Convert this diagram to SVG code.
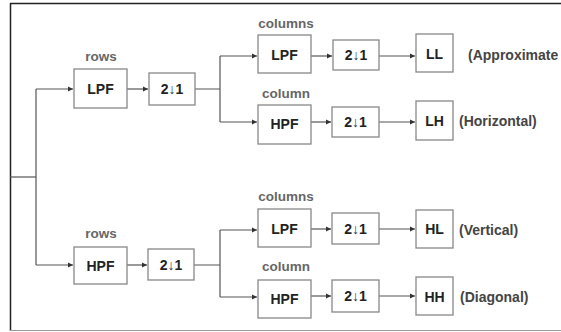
<svg xmlns="http://www.w3.org/2000/svg" width="561" height="332" viewBox="0 0 561 332">
<style>
.bx{fill:#fff;stroke:#888;stroke-width:1.3}
.t{font-family:"Liberation Sans",Arial,sans-serif;font-weight:bold;font-size:14px;fill:#222;text-anchor:middle;dominant-baseline:central}
.ar{fill:#2a3550;font-weight:normal}
.lb{font-family:"Liberation Sans",Arial,sans-serif;font-weight:bold;font-size:13.5px;fill:#666;text-anchor:middle}
.d{font-family:"Liberation Sans",Arial,sans-serif;font-weight:bold;font-size:14px;fill:#444;dominant-baseline:central}
.c{fill:none;stroke:#555;stroke-width:1.2}
</style>
<defs>
<marker id="ah" markerWidth="6" markerHeight="6" refX="5" refY="3" orient="auto" markerUnits="userSpaceOnUse">
<path d="M0,0.5 L5,3 L0,5.5 Z" fill="#333"/>
</marker>
</defs>
<rect x="0" y="0" width="561" height="332" fill="#fff"/>
<g id="frame">
<line x1="10" y1="3.5" x2="561" y2="3.5" stroke="#222" stroke-width="1.5"/>
<line x1="10.5" y1="3" x2="10.5" y2="331" stroke="#222" stroke-width="1.5"/>
<line x1="10" y1="330.5" x2="561" y2="330.5" stroke="#999" stroke-width="1.2"/>
</g>
<g id="connectors">
<path class="c" d="M10,177 H36"/>
<path class="c" d="M36,89 V265"/>
<path class="c" d="M36,89 H73" marker-end="url(#ah)"/>
<path class="c" d="M36,265 H73" marker-end="url(#ah)"/>
<path class="c" d="M127,89 H148" marker-end="url(#ah)"/>
<path class="c" d="M127,265 H147" marker-end="url(#ah)"/>
<path class="c" d="M195,89 H220 M220,56 V122"/>
<path class="c" d="M220,56 H257" marker-end="url(#ah)"/>
<path class="c" d="M220,122 H257" marker-end="url(#ah)"/>
<path class="c" d="M194,265 H220 M220,230 V297"/>
<path class="c" d="M220,230 H257" marker-end="url(#ah)"/>
<path class="c" d="M220,297 H257" marker-end="url(#ah)"/>
<path class="c" d="M311,56 H332" marker-end="url(#ah)"/>
<path class="c" d="M311,122 H331" marker-end="url(#ah)"/>
<path class="c" d="M311,229 H331" marker-end="url(#ah)"/>
<path class="c" d="M311,296 H331" marker-end="url(#ah)"/>
<path class="c" d="M379,56 H415" marker-end="url(#ah)"/>
<path class="c" d="M379,122 H415" marker-end="url(#ah)"/>
<path class="c" d="M379,229 H415" marker-end="url(#ah)"/>
<path class="c" d="M379,296 H415" marker-end="url(#ah)"/>
</g>
<g id="rowLPF"><text class="lb" x="101" y="61">rows</text><rect class="bx" x="74" y="69" width="53" height="39"/><text class="t" x="100.5" y="89">LPF</text></g>
<g id="rowDown1"><rect class="bx" x="149" y="73" width="46" height="32"/><text class="t" x="172" y="89">2<tspan class="ar">↓</tspan>1</text></g>
<g id="rowHPF"><text class="lb" x="101" y="238">rows</text><rect class="bx" x="74" y="247" width="53" height="37"/><text class="t" x="100.5" y="266">HPF</text></g>
<g id="rowDown2"><rect class="bx" x="148" y="249" width="46" height="31"/><text class="t" x="171" y="265">2<tspan class="ar">↓</tspan>1</text></g>
<g id="colLPF1"><text class="lb" x="286" y="28">columns</text><rect class="bx" x="258" y="35" width="53" height="38"/><text class="t" x="284.5" y="55">LPF</text></g>
<g id="colHPF1"><text class="lb" x="286" y="98">column</text><rect class="bx" x="258" y="105" width="53" height="39"/><text class="t" x="284.5" y="124">HPF</text></g>
<g id="colLPF2"><text class="lb" x="286" y="201">columns</text><rect class="bx" x="258" y="209" width="53" height="38"/><text class="t" x="284.5" y="229">LPF</text></g>
<g id="colHPF2"><text class="lb" x="286" y="271">column</text><rect class="bx" x="258" y="280" width="53" height="38"/><text class="t" x="284.5" y="299">HPF</text></g>
<g id="down3"><rect class="bx" x="333" y="40" width="46" height="30"/><text class="t" x="356" y="55">2<tspan class="ar">↓</tspan>1</text></g>
<g id="down4"><rect class="bx" x="332" y="107" width="47" height="30"/><text class="t" x="355.5" y="122">2<tspan class="ar">↓</tspan>1</text></g>
<g id="down5"><rect class="bx" x="332" y="213" width="47" height="31"/><text class="t" x="355.5" y="229">2<tspan class="ar">↓</tspan>1</text></g>
<g id="down6"><rect class="bx" x="332" y="280" width="47" height="32"/><text class="t" x="355.5" y="296">2<tspan class="ar">↓</tspan>1</text></g>
<g id="LL"><rect class="bx" x="416" y="34" width="37" height="38"/><text class="t" x="434.5" y="54">LL</text><text class="d" x="468" y="55">(Approximate</text></g>
<g id="LH"><rect class="bx" x="416" y="101" width="37" height="39"/><text class="t" x="434.5" y="121">LH</text><text class="d" x="459" y="121">(Horizontal)</text></g>
<g id="HL"><rect class="bx" x="416" y="210" width="37" height="38"/><text class="t" x="434.5" y="229">HL</text><text class="d" x="459" y="230">(Vertical)</text></g>
<g id="HH"><rect class="bx" x="416" y="277" width="37" height="38"/><text class="t" x="434.5" y="297">HH</text><text class="d" x="460" y="297">(Diagonal)</text></g>
</svg>
